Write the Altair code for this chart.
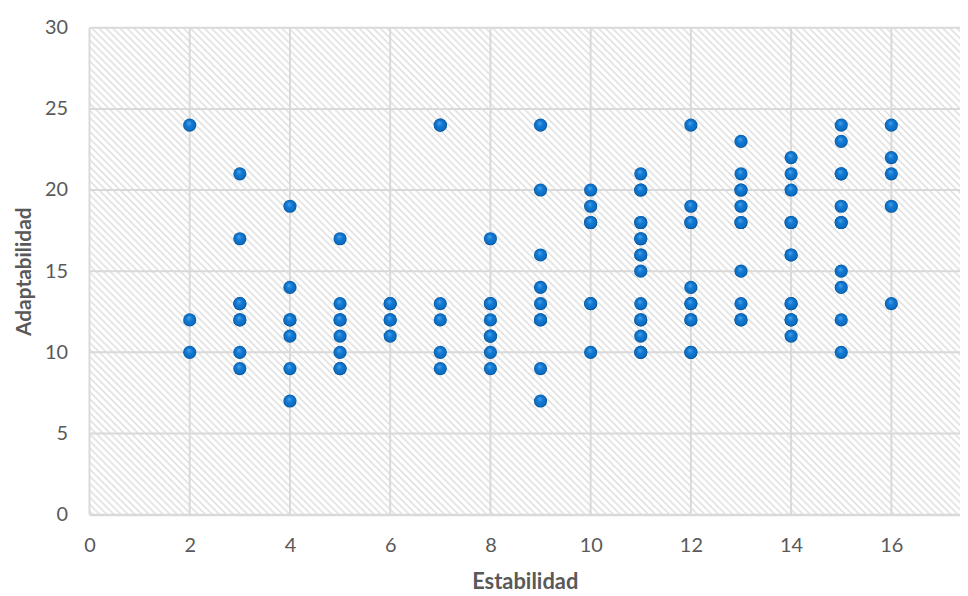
import math
import altair as alt
import pandas as pd

# ---- data ----
estabilidad = [
    2, 2, 2,
    3, 3, 3, 3, 3, 3, 3, 3,
    4, 4, 4, 4, 4, 4, 4,
    5, 5, 5, 5, 5, 5, 5, 5,
    6, 6, 6, 6, 6,
    7, 7, 7, 7, 7, 7,
    8, 8, 8, 8, 8, 8, 8, 8,
    9, 9, 9, 9, 9, 9, 9, 9, 9,
    10, 10, 10, 10, 10, 10, 10,
    11, 11, 11, 11, 11, 11, 11, 11, 11, 11, 11, 11, 11, 11, 11, 11,
    12, 12, 12, 12, 12, 12, 12, 12, 12, 12, 12,
    13, 13, 13, 13, 13, 13, 13, 13, 13, 13, 13,
    14, 14, 14, 14, 14, 14, 14, 14, 14, 14, 14, 14,
    15, 15, 15, 15, 15, 15, 15, 15, 15, 15, 15,
    16, 16, 16, 16, 16,
]
adaptabilidad = [
    24, 12, 10,
    21, 17, 13, 13, 12, 12, 10, 9,
    19, 14, 12, 12, 11, 9, 7,
    17, 13, 12, 12, 11, 10, 9, 9,
    13, 13, 12, 12, 11,
    24, 24, 13, 12, 10, 9,
    17, 13, 13, 12, 11, 11, 10, 9,
    24, 20, 16, 14, 13, 12, 12, 9, 7,
    20, 19, 18, 18, 13, 13, 10,
    21, 20, 20, 18, 18, 17, 17, 16, 16, 15, 13, 12, 12, 11, 10, 10,
    24, 19, 18, 18, 14, 13, 13, 12, 12, 10, 10,
    23, 21, 20, 20, 19, 18, 18, 15, 13, 12, 12,
    22, 21, 20, 18, 18, 16, 16, 13, 13, 12, 12, 11,
    24, 23, 21, 21, 19, 18, 18, 15, 14, 12, 10,
    24, 22, 21, 19, 13,
]
x_ticks = [0, 2, 4, 6, 8, 10, 12, 14, 16]
y_ticks = [0, 5, 10, 15, 20, 25, 30]
x_title = "Estabilidad"
y_title = "Adaptabilidad"

df = pd.DataFrame({"Estabilidad": estabilidad, "Adaptabilidad": adaptabilidad})
xgrid = pd.DataFrame({"Estabilidad": x_ticks})
ygrid = pd.DataFrame({"Adaptabilidad": y_ticks})

# ---- styling ----
W, H = 876, 490
FONT = "Lato"
GRAY_TXT = "#595959"
GRID = "#d9d9d9"

# diagonal hatch (top-left to bottom-right) emulated with a striped linear gradient
ratio = H / W
k = (1 + ratio) / (1 + ratio * ratio)
diag = (W + H) / math.sqrt(2)
period = 5.0
n = int(round(diag / period))
stripe = "#dedede"
stops = []
for i in range(n):
    a = i / n
    stops += [
        {"offset": a, "color": "#ffffff"},
        {"offset": (i + 0.2) / n, "color": "#ffffff"},
        {"offset": (i + 0.5) / n, "color": stripe},
        {"offset": (i + 0.8) / n, "color": "#ffffff"},
    ]
stops.append({"offset": 1, "color": "#ffffff"})
hatch = {"gradient": "linear", "x1": 0, "y1": 1, "x2": k, "y2": 1 - k * ratio, "stops": stops}

ball = {
    "gradient": "radial",
    "x1": 0.42, "y1": 0.32, "r1": 0,
    "x2": 0.5, "y2": 0.5, "r2": 0.5,
    "stops": [
        {"offset": 0, "color": "#4aa5ec"},
        {"offset": 0.45, "color": "#1379d2"},
        {"offset": 0.85, "color": "#0b6cc2"},
        {"offset": 1, "color": "#07518f"},
    ],
}

xscale = alt.Scale(domain=[0, 17.37], nice=False, zero=False)
yscale = alt.Scale(domain=[0, 30], nice=False)

background = (
    alt.Chart(alt.Data(values=[{"a": 1}]))
    .mark_rect(fill=hatch, strokeWidth=0)
    .encode(x=alt.value(0), x2=alt.value(W), y=alt.value(0), y2=alt.value(H))
)

vgrid = (
    alt.Chart(xgrid)
    .mark_rule(color=GRID, strokeWidth=2)
    .encode(x=alt.X("Estabilidad:Q", scale=xscale))
)
hgrid = (
    alt.Chart(ygrid)
    .mark_rule(color=GRID, strokeWidth=2)
    .encode(y=alt.Y("Adaptabilidad:Q", scale=yscale))
)

points = (
    alt.Chart(df)
    .mark_point(filled=True, shape="circle", size=175, fill=ball, opacity=1, strokeWidth=0)
    .encode(
        x=alt.X(
            "Estabilidad:Q",
            scale=xscale,
            axis=alt.Axis(
                values=x_ticks, title=x_title, grid=False,
                domain=True, domainColor=GRID, domainWidth=2, ticks=False, tickSize=0,
                labelPadding=21, titleY=57, titleFontSize=22, labelFlush=False,
            ),
        ),
        y=alt.Y(
            "Adaptabilidad:Q",
            scale=yscale,
            axis=alt.Axis(
                values=y_ticks, title=y_title, grid=False,
                domain=False, ticks=False, tickSize=0, labelPadding=22,
                titleX=-55, titleFontSize=21, labelFlush=False,
            ),
        ),
    )
)

chart = (
    alt.layer(background, vgrid, hgrid, points)
    .properties(
        width=W,
        height=H,
        autosize=alt.AutoSizeParams(type="none"),
        padding={"left": 82, "top": 18, "right": 0, "bottom": 80},
    )
    .configure_view(stroke=None)
    .configure_axis(
        labelFont=FONT, labelFontSize=20, labelColor=GRAY_TXT,
        titleFont=FONT, titleFontWeight="bold", titleColor=GRAY_TXT,
    )
)

chart.save("out.html", embed_options={"renderer": "svg", "actions": False})
